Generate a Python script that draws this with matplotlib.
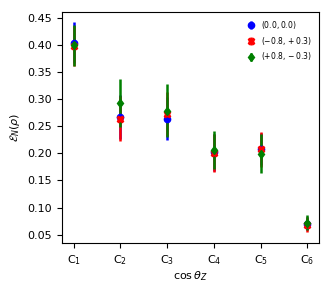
import numpy as np
import matplotlib
matplotlib.use("Agg")
import matplotlib.pyplot as plt

plt.rcParams['font.size'] = 8

# cos(theta_Z) bins
bins = [1, 2, 3, 4, 5, 6]
tick_labels = [r'C$_1$', r'C$_2$', r'C$_3$', r'C$_4$', r'C$_5$', r'C$_6$']
y_ticks = [0.05, 0.10, 0.15, 0.20, 0.25, 0.30, 0.35, 0.40, 0.45]

# (0.0, 0.0)
en_a = [0.404, 0.267, 0.264, 0.202, 0.208, 0.070]
err_a = [0.037, 0.040, 0.040, 0.034, 0.030, 0.012]
# (-0.8, +0.3)
en_b = [0.398, 0.264, 0.272, 0.200, 0.207, 0.068]
err_b = [0.037, 0.042, 0.040, 0.035, 0.033, 0.014]
# (+0.8, -0.3)
en_c = [0.399, 0.293, 0.278, 0.206, 0.199, 0.072]
err_c = [0.038, 0.044, 0.049, 0.035, 0.036, 0.014]

fig = plt.figure(figsize=(3.32, 2.91), dpi=100)
ax = fig.add_axes([0.187, 0.165, 0.774, 0.794])

ax.errorbar(bins, en_a, yerr=err_a, fmt='o', color='blue', ms=4.5, elinewidth=1.8, label=r'$(0.0, 0.0)$')
ax.errorbar(bins, en_b, yerr=err_b, fmt='X', color='red', ms=4.5, elinewidth=1.8, label=r'$(-0.8, +0.3)$')
ax.errorbar(bins, en_c, yerr=err_c, fmt='d', color='green', ms=4.5, elinewidth=1.8, label=r'$(+0.8, -0.3)$')

ax.set_xticks(bins)
ax.set_xticklabels(tick_labels)
ax.set_yticks(y_ticks)
ax.set_yticklabels(['%.2f' % t for t in y_ticks])
ax.set_xlabel(r'$\cos\theta_Z$', labelpad=2)
ax.set_ylabel(r'$\mathcal{E}_N(\rho)$')
ax.legend(loc='upper right', fontsize=5.5, frameon=False, handletextpad=0.3)

fig.savefig('out.png', dpi=100)
